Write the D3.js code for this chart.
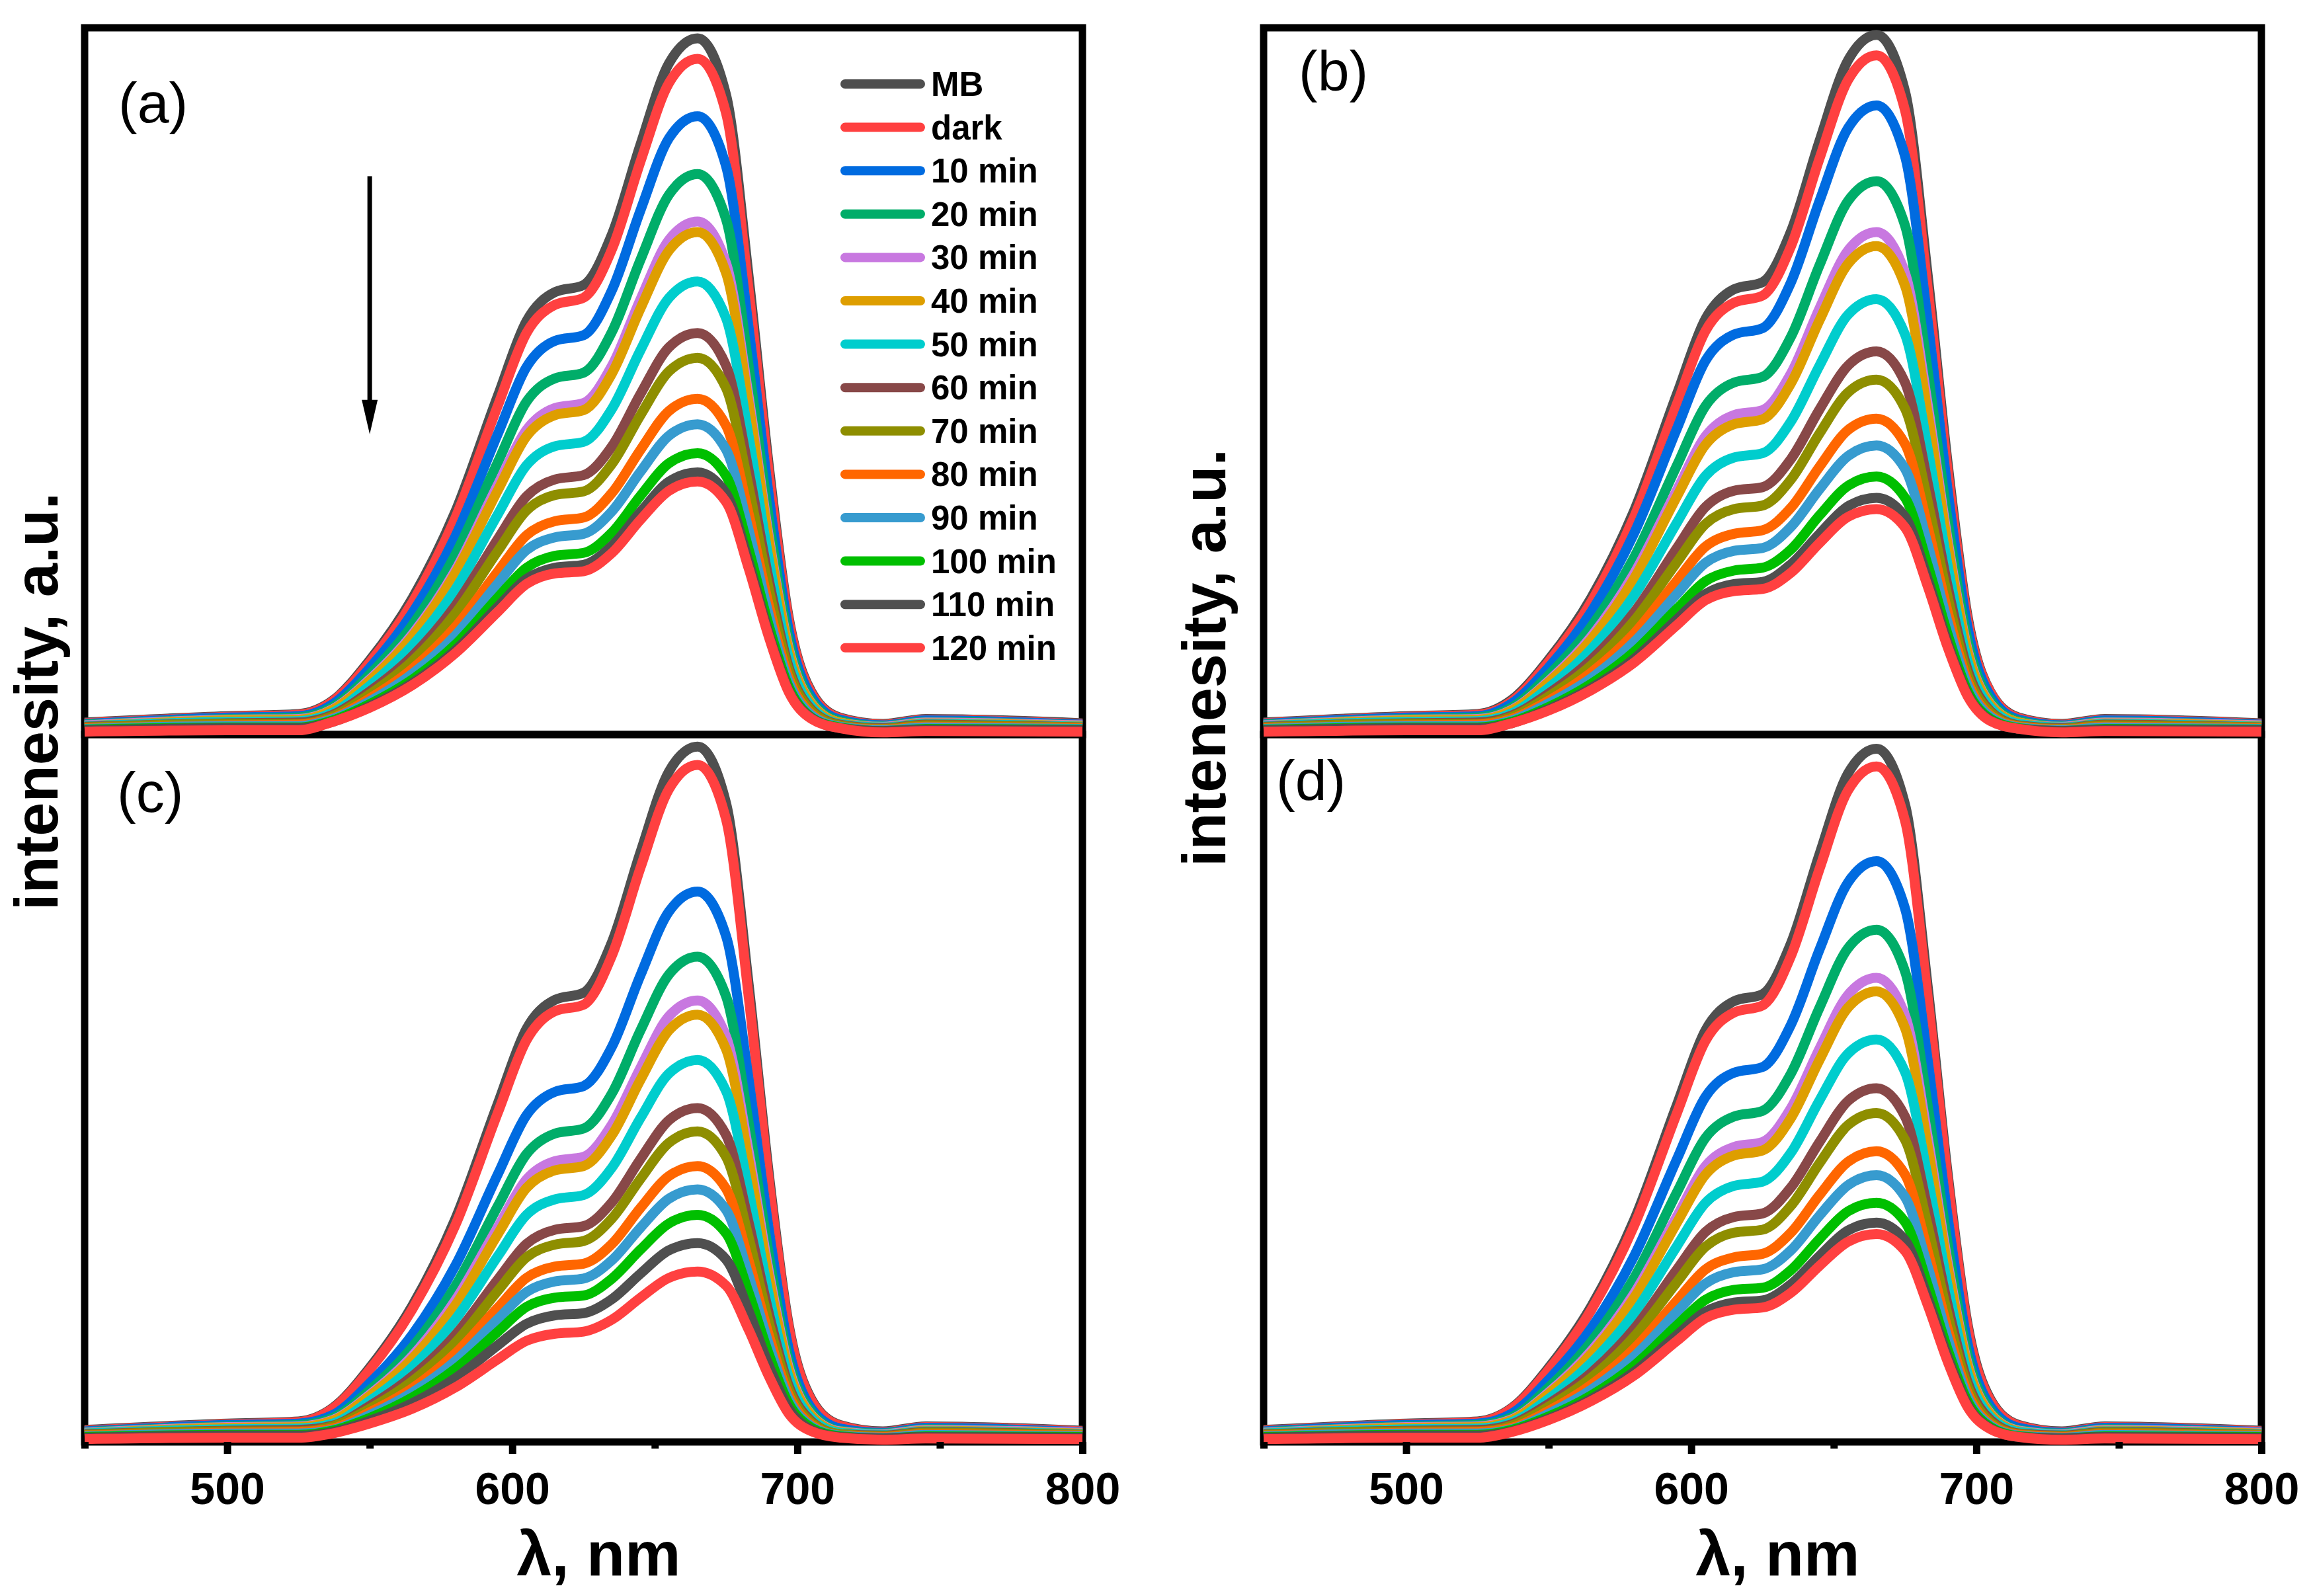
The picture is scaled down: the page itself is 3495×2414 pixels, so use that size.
<!DOCTYPE html>
<html>
<head>
<meta charset="utf-8">
<script src="https://cdn.jsdelivr.net/npm/d3@7"></script>
<style>
  body { margin: 0; background: #fff; }
  svg { display: block; font-family: 'Liberation Sans', Arial, sans-serif; }
</style>
</head>
<body>
<script>
const wavelength = [450, 500, 525, 537, 550, 565, 580, 595, 605, 615, 625, 635, 645, 655, 665, 675, 683, 690, 697, 705, 715, 730, 745, 800];

const seriesNames = ['MB', 'dark', '10 min', '20 min', '30 min', '40 min', '50 min', '60 min', '70 min', '80 min', '90 min', '100 min', '110 min', '120 min'];

const seriesColors = ['#4f4f4f', '#ff4040', '#006be0', '#00ad69', '#c878e0', '#de9e00', '#00cdcd', '#884848', '#8e8e00', '#ff6600', '#379bcf', '#00bf00', '#4f4f4f', '#ff4040'];

// flat baseline parts, 450 / 500 / 525 nm and 730 / 745 / 800 nm
const baseLeft = [[1.7, 2.6, 2.9], [1.6, 2.5, 2.8], [1.5, 2.4, 2.6], [1.4, 2.2, 2.4], [1.3, 2.1, 2.2], [1.2, 2.0, 2.1], [1.2, 1.8, 1.9], [1.1, 1.6, 1.7], [1.0, 1.5, 1.5], [0.9, 1.3, 1.4], [0.8, 1.2, 1.2], [0.7, 1.0, 1.0], [0.6, 0.9, 0.9], [0.4, 0.6, 0.6]];
const baseRight = [[1.5, 2.2, 1.6], [1.4, 2.1, 1.5], [1.3, 2.0, 1.4], [1.2, 1.8, 1.3], [1.1, 1.7, 1.3], [1.0, 1.6, 1.2], [1.0, 1.5, 1.1], [0.9, 1.4, 1.0], [0.8, 1.3, 1.0], [0.7, 1.1, 0.9], [0.6, 1.0, 0.8], [0.5, 0.8, 0.7], [0.5, 0.7, 0.6], [0.3, 0.5, 0.4]];

// absorption band, 537 ... 715 nm
const panelA = [
  [4.8, 10.5, 19.3, 31.5, 48.0, 58.5, 62.6, 63.6, 70.8, 83.5, 95.0, 98.5, 90.5, 64.5, 38.0, 16.5, 6.0, 2.4],
  [4.7, 10.2, 18.7, 30.6, 46.6, 56.8, 60.8, 61.8, 68.7, 81.1, 92.2, 95.6, 87.9, 62.6, 36.9, 16.1, 5.8, 2.3],
  [4.3, 9.4, 17.2, 28.0, 42.6, 52.0, 55.7, 56.5, 62.9, 74.2, 84.4, 87.5, 80.4, 57.3, 33.8, 14.7, 5.3, 2.1],
  [3.9, 8.5, 15.5, 25.4, 38.6, 47.1, 50.4, 51.2, 57.0, 67.2, 76.4, 79.3, 72.9, 51.9, 30.6, 13.3, 4.8, 1.9],
  [3.6, 7.8, 14.2, 23.2, 35.4, 43.1, 46.2, 46.9, 52.2, 61.6, 70.0, 72.6, 66.7, 47.6, 28.0, 12.2, 4.4, 1.7],
  [3.5, 7.6, 13.9, 22.8, 34.6, 42.2, 45.2, 45.9, 51.1, 60.3, 68.5, 71.1, 65.3, 46.6, 27.4, 11.9, 4.3, 1.7],
  [3.1, 6.9, 12.6, 20.5, 31.2, 38.1, 40.8, 41.4, 46.1, 54.4, 61.8, 64.1, 58.9, 42.0, 24.7, 10.8, 3.9, 1.5],
  [2.8, 6.1, 11.1, 18.2, 27.7, 33.7, 36.1, 36.7, 40.8, 48.2, 54.8, 56.8, 52.2, 37.2, 21.9, 9.5, 3.5, 1.4],
  [2.6, 5.7, 10.4, 17.1, 26.0, 31.7, 33.9, 34.4, 38.3, 45.2, 51.4, 53.3, 49.0, 34.9, 20.6, 9.0, 3.3, 1.3],
  [2.3, 5.1, 9.3, 15.2, 23.1, 28.2, 30.2, 30.7, 34.2, 40.3, 45.8, 47.5, 43.7, 31.1, 18.3, 8.0, 2.9, 1.1],
  [2.2, 4.7, 8.6, 14.0, 21.4, 26.1, 27.9, 28.4, 31.6, 37.2, 42.3, 43.9, 40.3, 28.8, 16.9, 7.4, 2.7, 1.1],
  [2.0, 4.3, 7.8, 12.7, 19.4, 23.6, 25.3, 25.7, 28.6, 33.8, 38.4, 39.8, 36.6, 26.1, 15.4, 6.7, 2.4, 1.0],
  [1.8, 4.0, 7.3, 11.9, 18.1, 22.0, 23.6, 24.0, 26.7, 31.5, 35.8, 37.1, 34.1, 24.3, 14.3, 6.2, 2.3, 0.9],
  [1.8, 3.8, 7.0, 11.5, 17.4, 21.3, 22.8, 23.1, 25.7, 30.4, 34.5, 35.8, 32.9, 23.4, 13.8, 6.0, 2.2, 0.9]
];
const panelB = [
  [4.9, 10.6, 19.4, 31.7, 48.2, 58.8, 63.0, 64.0, 71.2, 84.0, 95.4, 99.0, 91.0, 64.8, 38.2, 16.6, 6.0, 2.4],
  [4.7, 10.3, 18.8, 30.8, 46.8, 57.1, 61.1, 62.1, 69.1, 81.5, 92.6, 96.1, 88.3, 62.9, 37.1, 16.1, 5.9, 2.3],
  [4.4, 9.5, 17.4, 28.5, 43.3, 52.9, 56.6, 57.5, 64.0, 75.5, 85.8, 89.0, 81.8, 58.3, 34.4, 15.0, 5.4, 2.1],
  [3.8, 8.4, 15.3, 25.1, 38.1, 46.5, 49.8, 50.6, 56.3, 66.4, 75.5, 78.3, 72.0, 51.3, 30.2, 13.2, 4.8, 1.9],
  [3.5, 7.6, 13.9, 22.8, 34.6, 42.2, 45.2, 45.9, 51.1, 60.3, 68.5, 71.1, 65.3, 46.6, 27.4, 11.9, 4.3, 1.7],
  [3.4, 7.4, 13.5, 22.1, 33.7, 41.0, 43.9, 44.6, 49.7, 58.6, 66.6, 69.1, 63.5, 45.3, 26.7, 11.6, 4.2, 1.7],
  [3.0, 6.6, 12.1, 19.7, 30.0, 36.6, 39.2, 39.8, 44.3, 52.2, 59.4, 61.6, 56.6, 40.3, 23.8, 10.3, 3.8, 1.5],
  [2.7, 5.8, 10.6, 17.3, 26.4, 32.2, 34.5, 35.0, 39.0, 46.0, 52.2, 54.2, 49.8, 35.5, 20.9, 9.1, 3.3, 1.3],
  [2.5, 5.4, 9.8, 16.1, 24.4, 29.8, 31.9, 32.4, 36.1, 42.6, 48.4, 50.2, 46.1, 32.9, 19.4, 8.4, 3.1, 1.2],
  [2.2, 4.8, 8.8, 14.3, 21.8, 26.6, 28.4, 28.9, 32.1, 37.9, 43.1, 44.7, 41.1, 29.3, 17.3, 7.5, 2.7, 1.1],
  [2.0, 4.4, 8.0, 13.1, 19.9, 24.3, 26.0, 26.4, 29.4, 34.7, 39.4, 40.9, 37.6, 26.8, 15.8, 6.9, 2.5, 1.0],
  [1.8, 3.9, 7.2, 11.7, 17.8, 21.7, 23.2, 23.6, 26.2, 31.0, 35.2, 36.5, 33.5, 23.9, 14.1, 6.1, 2.2, 0.9],
  [1.6, 3.6, 6.6, 10.7, 16.3, 19.9, 21.3, 21.6, 24.1, 28.4, 32.3, 33.5, 30.8, 21.9, 12.9, 5.6, 2.0, 0.8],
  [1.6, 3.4, 6.3, 10.2, 15.5, 19.0, 20.3, 20.6, 22.9, 27.1, 30.8, 31.9, 29.3, 20.9, 12.3, 5.4, 1.9, 0.8]
];
const panelC = [
  [4.8, 10.5, 19.3, 31.5, 47.9, 58.4, 62.5, 63.5, 70.7, 83.4, 94.8, 98.3, 90.3, 64.4, 37.9, 16.5, 6.0, 2.4],
  [4.7, 10.2, 18.8, 30.6, 46.6, 56.8, 60.9, 61.8, 68.8, 81.2, 92.3, 95.7, 88.0, 62.7, 36.9, 16.1, 5.8, 2.3],
  [3.8, 8.3, 15.2, 24.9, 37.9, 46.2, 49.5, 50.3, 55.9, 66.0, 75.0, 77.8, 71.5, 51.0, 30.0, 13.1, 4.7, 1.9],
  [3.4, 7.3, 13.4, 22.0, 33.4, 40.7, 43.6, 44.3, 49.3, 58.2, 66.1, 68.6, 63.0, 44.9, 26.5, 11.5, 4.2, 1.6],
  [3.1, 6.7, 12.2, 20.0, 30.4, 37.1, 39.7, 40.3, 44.9, 52.9, 60.2, 62.4, 57.3, 40.9, 24.1, 10.5, 3.8, 1.5],
  [3.0, 6.5, 11.8, 19.3, 29.4, 35.9, 38.4, 39.0, 43.4, 51.2, 58.2, 60.4, 55.5, 39.6, 23.3, 10.1, 3.7, 1.4],
  [2.6, 5.8, 10.6, 17.3, 26.3, 32.1, 34.3, 34.9, 38.8, 45.8, 52.1, 54.0, 49.6, 35.4, 20.8, 9.1, 3.3, 1.3],
  [2.3, 5.1, 9.3, 15.1, 23.0, 28.0, 30.0, 30.5, 33.9, 40.0, 45.5, 47.2, 43.4, 30.9, 18.2, 7.9, 2.9, 1.1],
  [2.2, 4.7, 8.6, 14.0, 21.4, 26.1, 27.9, 28.4, 31.6, 37.2, 42.3, 43.9, 40.3, 28.8, 16.9, 7.4, 2.7, 1.1],
  [1.9, 4.2, 7.6, 12.5, 19.0, 23.2, 24.8, 25.2, 28.0, 33.1, 37.6, 39.0, 35.8, 25.5, 15.1, 6.6, 2.4, 0.9],
  [1.7, 3.8, 7.0, 11.4, 17.4, 21.2, 22.7, 23.1, 25.7, 30.3, 34.4, 35.7, 32.8, 23.4, 13.8, 6.0, 2.2, 0.9],
  [1.6, 3.4, 6.3, 10.3, 15.6, 19.1, 20.4, 20.7, 23.1, 27.2, 30.9, 32.1, 29.5, 21.0, 12.4, 5.4, 2.0, 0.8],
  [1.4, 3.0, 5.5, 9.0, 13.7, 16.7, 17.9, 18.2, 20.2, 23.8, 27.1, 28.1, 25.8, 18.4, 10.8, 4.7, 1.7, 0.7],
  [1.2, 2.6, 4.7, 7.7, 11.7, 14.3, 15.3, 15.6, 17.3, 20.4, 23.2, 24.1, 22.1, 15.8, 9.3, 4.0, 1.5, 0.6]
];
const panelD = [
  [4.8, 10.5, 19.2, 31.4, 47.7, 58.2, 62.3, 63.3, 70.5, 83.1, 94.5, 98.0, 90.1, 64.2, 37.8, 16.5, 6.0, 2.4],
  [4.7, 10.2, 18.7, 30.6, 46.5, 56.7, 60.7, 61.7, 68.7, 81.0, 92.1, 95.5, 87.8, 62.6, 36.9, 16.0, 5.8, 2.3],
  [4.0, 8.8, 16.1, 26.3, 40.0, 48.8, 52.2, 53.0, 59.0, 69.6, 79.1, 82.1, 75.4, 53.8, 31.7, 13.8, 5.0, 2.0],
  [3.5, 7.7, 14.2, 23.2, 35.3, 43.0, 46.0, 46.8, 52.1, 61.4, 69.8, 72.4, 66.5, 47.4, 27.9, 12.2, 4.4, 1.7],
  [3.2, 7.0, 12.9, 21.0, 31.9, 39.0, 41.7, 42.4, 47.2, 55.6, 63.2, 65.6, 60.3, 43.0, 25.3, 11.0, 4.0, 1.6],
  [3.1, 6.8, 12.5, 20.4, 31.0, 37.8, 40.5, 41.2, 45.8, 54.0, 61.4, 63.7, 58.5, 41.7, 24.6, 10.7, 3.9, 1.5],
  [2.8, 6.1, 11.2, 18.2, 27.7, 33.8, 36.2, 36.8, 40.9, 48.3, 54.9, 56.9, 52.3, 37.3, 22.0, 9.6, 3.5, 1.4],
  [2.5, 5.4, 9.8, 16.0, 24.4, 29.7, 31.8, 32.3, 36.0, 42.4, 48.2, 50.0, 46.0, 32.8, 19.3, 8.4, 3.1, 1.2],
  [2.3, 5.0, 9.1, 14.9, 22.6, 27.6, 29.6, 30.0, 33.4, 39.4, 44.8, 46.5, 42.7, 30.5, 17.9, 7.8, 2.8, 1.1],
  [2.0, 4.4, 8.1, 13.2, 20.0, 24.4, 26.1, 26.6, 29.6, 34.9, 39.6, 41.1, 37.8, 26.9, 15.9, 6.9, 2.5, 1.0],
  [1.8, 4.0, 7.4, 12.1, 18.4, 22.4, 24.0, 24.4, 27.1, 32.0, 36.3, 37.7, 34.6, 24.7, 14.6, 6.3, 2.3, 0.9],
  [1.7, 3.6, 6.6, 10.8, 16.5, 20.1, 21.5, 21.8, 24.3, 28.7, 32.6, 33.8, 31.1, 22.1, 13.0, 5.7, 2.1, 0.8],
  [1.5, 3.3, 6.1, 9.9, 15.1, 18.4, 19.7, 20.0, 22.3, 26.3, 29.9, 31.0, 28.5, 20.3, 12.0, 5.2, 1.9, 0.7],
  [1.4, 3.1, 5.8, 9.4, 14.3, 17.5, 18.7, 19.0, 21.1, 24.9, 28.3, 29.4, 27.0, 19.3, 11.3, 4.9, 1.8, 0.7]
];

const xTicks = [500, 600, 700, 800];
const xMinorTicks = [450, 550, 650, 750];
const panelLabels = ['(a)', '(b)', '(c)', '(d)'];
// arrow in (a): wavelength and the two intensity ends
const arrowAt = { wl: 550, from: 79, to: 42.5 };

const w = 3495,
      h = 2414,
      lineW = 15,
      frameW = 11;

const panels = [
  { x0: 128, x1: 1637, y0: 42, y1: 1111, rows: panelA, lx: 179, ly: 185, axis: false },
  { x0: 1911, x1: 3420, y0: 42, y1: 1111, rows: panelB, lx: 1964, ly: 137, axis: false },
  { x0: 128, x1: 1637, y0: 1111, y1: 2181, rows: panelC, lx: 177, ly: 1228, axis: true },
  { x0: 1911, x1: 3420, y0: 1111, y1: 2181, rows: panelD, lx: 1930, ly: 1210, axis: true }
];

const svg = d3.select('body')
            .append('svg')
            .attr('width', w)
            .attr('height', h);

svg.append('rect')
    .attr('width', w)
    .attr('height', h)
    .attr('fill', '#fff');

// frames first, spectra go on top of them like in the original
panels.forEach((p) => {
  svg.append('rect')
      .attr('x', p.x0)
      .attr('y', p.y0)
      .attr('width', p.x1 - p.x0)
      .attr('height', p.y1 - p.y0)
      .attr('fill', 'none')
      .attr('stroke', '#000')
      .attr('stroke-width', frameW);
});

panels.forEach((p, k) => {
  const xScale = d3.scaleLinear()
                  .domain([450, 800])
                  .range([p.x0, p.x1]);
  const yScale = d3.scaleLinear()
                  .domain([0, 100])
                  .range([p.y1, p.y0]);

  const line = d3.line()
                .x((d) => xScale(d[0]))
                .y((d) => yScale(d[1]))
                .curve(d3.curveMonotoneX);

  const series = p.rows.map((r, i) => baseLeft[i].concat(r, baseRight[i]).map((v, j) => [wavelength[j], v]));

  svg.append('g')
      .selectAll('path')
      .data(series)
      .enter()
      .append('path')
      .attr('d', line)
      .attr('fill', 'none')
      .attr('stroke', (d, i) => seriesColors[i])
      .attr('stroke-width', lineW)
      .attr('stroke-linejoin', 'round');

  if (p.axis) {
    const xAxis = d3.axisBottom(xScale)
                    .tickValues(xTicks)
                    .tickSizeInner(18)
                    .tickSizeOuter(0);
    const gx = svg.append('g')
        .attr('transform', 'translate(0, ' + p.y1 + ')')
        .call(xAxis);
    gx.select('.domain').remove();
    gx.selectAll('line').attr('stroke', '#000').attr('stroke-width', frameW);
    gx.selectAll('text')
        .attr('y', 94)
        .attr('dy', 0)
        .attr('fill', '#000')
        .attr('font-family', "'Liberation Sans', Arial, sans-serif")
        .attr('font-weight', 'bold')
        .attr('font-size', 68);

    const minorAxis = d3.axisBottom(xScale)
                        .tickValues(xMinorTicks)
                        .tickSizeInner(10)
                        .tickSizeOuter(0)
                        .tickFormat('');
    const gm = svg.append('g')
        .attr('transform', 'translate(0, ' + p.y1 + ')')
        .call(minorAxis);
    gm.select('.domain').remove();
    gm.selectAll('line').attr('stroke', '#000').attr('stroke-width', frameW);

    svg.append('text')
        .attr('x', (p.x0 + p.x1) / 2 + 23)
        .attr('y', 2383)
        .attr('text-anchor', 'middle')
        .attr('font-weight', 'bold')
        .attr('font-size', 95)
        .text('λ, nm');
  }

  svg.append('text')
      .attr('x', p.lx)
      .attr('y', p.ly)
      .attr('font-size', 86)
      .text(panelLabels[k]);

  if (k === 0) {
    // legend
    const legend = svg.append('g');
    seriesNames.forEach((name, i) => {
      const cy = 127 + i * 65.6;
      legend.append('line')
          .attr('x1', 1278)
          .attr('x2', 1392)
          .attr('y1', cy)
          .attr('y2', cy)
          .attr('stroke', seriesColors[i])
          .attr('stroke-width', 14)
          .attr('stroke-linecap', 'round');
      legend.append('text')
          .attr('x', 1408)
          .attr('y', cy + 18)
          .attr('font-weight', 'bold')
          .attr('font-size', 51)
          .text(name);
    });

    // downward arrow
    const ax = xScale(arrowAt.wl),
          ay0 = yScale(arrowAt.from),
          ay1 = yScale(arrowAt.to);
    svg.append('line')
        .attr('x1', ax)
        .attr('x2', ax)
        .attr('y1', ay0)
        .attr('y2', ay1 - 42)
        .attr('stroke', '#000')
        .attr('stroke-width', 7);
    svg.append('path')
        .attr('d', 'M' + (ax - 12) + ',' + (ay1 - 52) + 'L' + (ax + 12) + ',' + (ay1 - 52) + 'L' + ax + ',' + ay1 + 'Z')
        .attr('fill', '#000');
  }
});

// y titles
svg.append('text')
    .attr('transform', 'translate(87, 1061) rotate(-90)')
    .attr('text-anchor', 'middle')
    .attr('font-weight', 'bold')
    .attr('font-size', 92)
    .text('intenesity, a.u.');
svg.append('text')
    .attr('transform', 'translate(1853, 995) rotate(-90)')
    .attr('text-anchor', 'middle')
    .attr('font-weight', 'bold')
    .attr('font-size', 92)
    .text('intenesity, a.u.');
</script>
</body>
</html>
